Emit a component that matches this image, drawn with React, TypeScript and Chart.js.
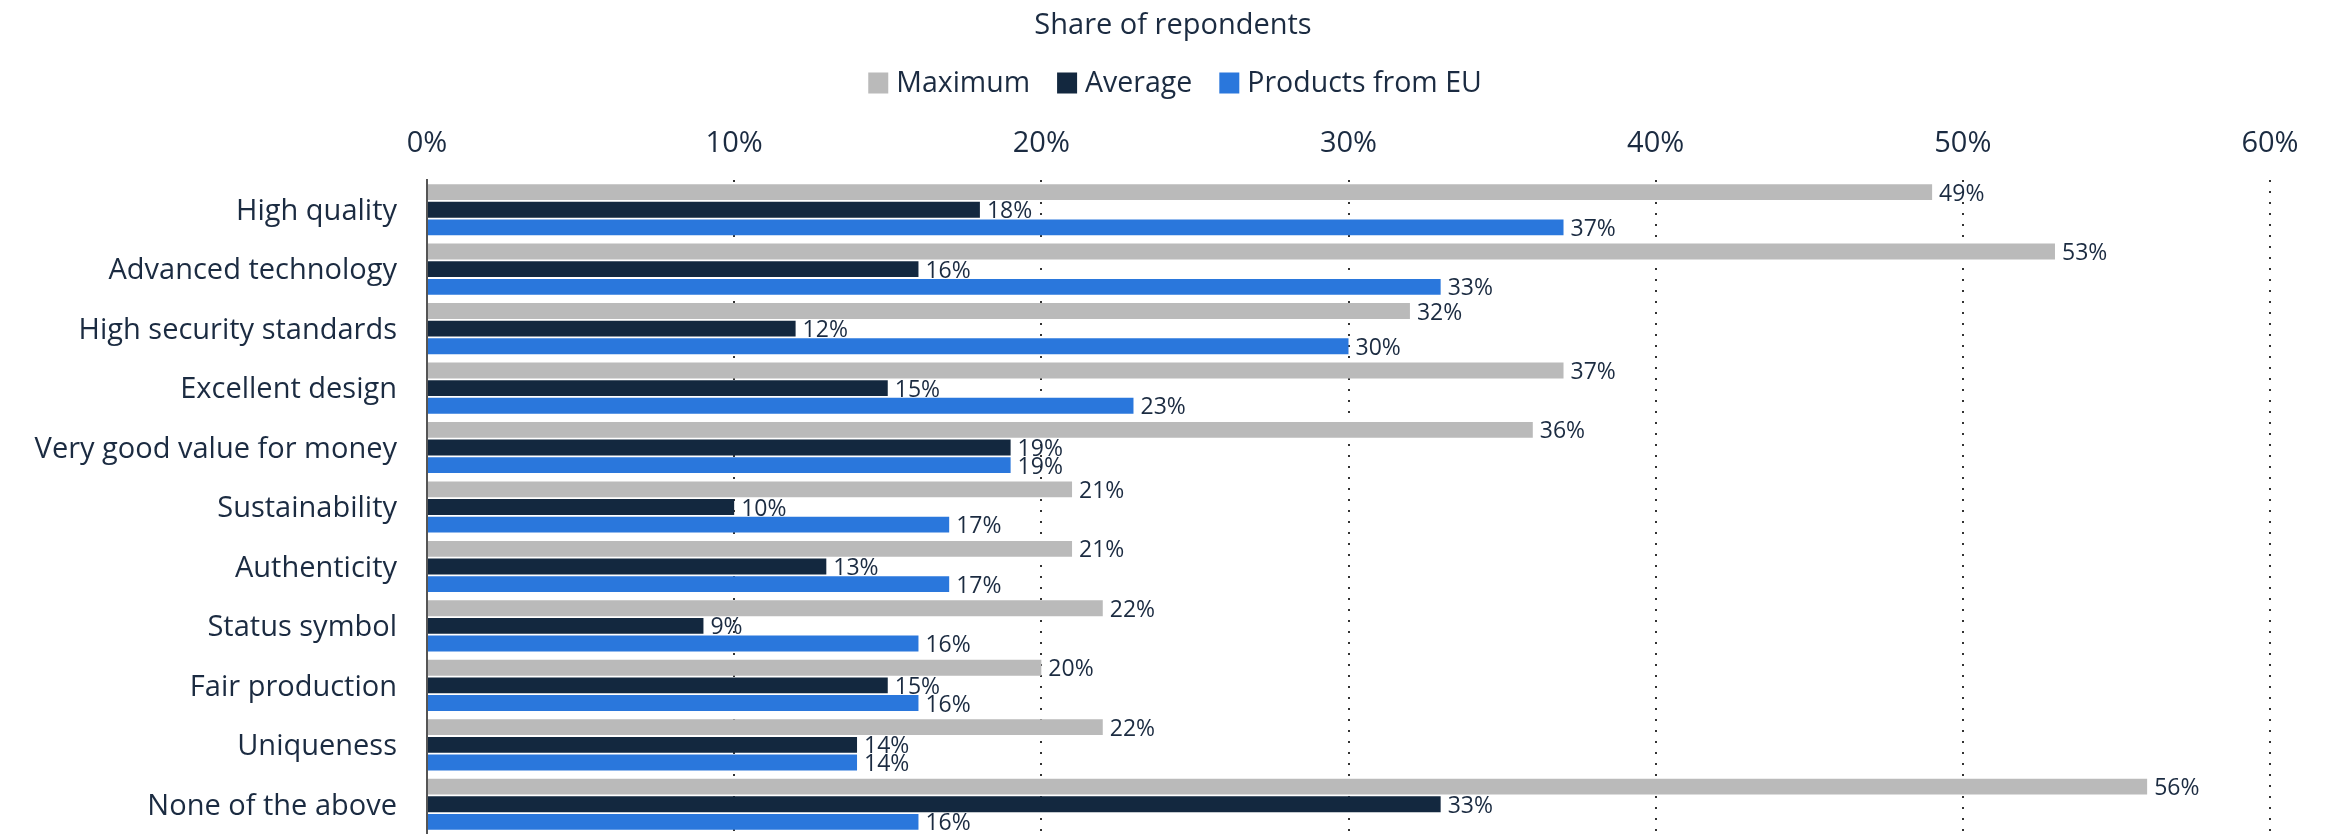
import React, { useEffect, useRef } from "react";
import { Chart, registerables } from "chart.js";

Chart.register(...registerables);

const categories = [
  "High quality",
  "Advanced technology",
  "High security standards",
  "Excellent design",
  "Very good value for money",
  "Sustainability",
  "Authenticity",
  "Status symbol",
  "Fair production",
  "Uniqueness",
  "None of the above",
];
const maximumValues = [49, 53, 32, 37, 36, 21, 21, 22, 20, 22, 56];
const averageValues = [18, 16, 12, 15, 19, 10, 13, 9, 15, 14, 33];
const euValues = [37, 33, 30, 23, 19, 17, 17, 16, 16, 14, 16];
const seriesNames = ["Maximum", "Average", "Products from EU"];
const seriesColors = ["#bababa", "#13283f", "#2a77dc"];
const titleText = "Share of repondents";
const xTicks = [0, 10, 20, 30, 40, 50, 60];

const TEXT = "#1b2b41";
const FONT = "'Open Sans', 'Noto Sans', sans-serif";

const headerPlugin = {
  id: "header",
  afterDraw(chart: any) {
    const ctx = chart.ctx;
    const W = chart.width;
    ctx.save();
    ctx.fillStyle = TEXT;
    ctx.textBaseline = "middle";
    ctx.textAlign = "center";
    ctx.font = `29px ${FONT}`;
    ctx.fillText(titleText, W / 2 + 10, 26);
    // legend
    ctx.font = `28.5px ${FONT}`;
    const boxW = 20, boxH = 21, gapBox = 8, gapItem = 27;
    const widths = seriesNames.map((n) => ctx.measureText(n).width);
    let total = 0;
    widths.forEach((w, i) => {
      total += boxW + gapBox + w + (i < widths.length - 1 ? gapItem : 0);
    });
    let x = W / 2 - total / 2 + 12;
    const y = 83;
    ctx.textAlign = "left";
    seriesNames.forEach((n, i) => {
      ctx.fillStyle = seriesColors[i];
      ctx.fillRect(x, y - boxH / 2, boxW, boxH);
      ctx.fillStyle = TEXT;
      ctx.fillText(n, x + boxW + gapBox, y + 1);
      x += boxW + gapBox + widths[i] + gapItem;
    });
    ctx.restore();
  },
};

const labelPlugin = {
  id: "barLabels",
  afterDatasetsDraw(chart: any) {
    const ctx = chart.ctx;
    ctx.save();
    ctx.fillStyle = TEXT;
    ctx.font = `23px ${FONT}`;
    ctx.textAlign = "left";
    ctx.textBaseline = "middle";
    chart.data.datasets.forEach((ds: any, di: number) => {
      const meta = chart.getDatasetMeta(di);
      meta.data.forEach((bar: any, i: number) => {
        ctx.fillText(`${ds.data[i]}%`, bar.x + 7, bar.y + 2);
      });
    });
    ctx.restore();
  },
};

export default function App() {
  const ref = useRef<HTMLCanvasElement>(null);
  useEffect(() => {
    if (!ref.current) return;
    const chart = new Chart(ref.current, {
      type: "bar",
      data: {
        labels: categories,
        datasets: [maximumValues, averageValues, euValues].map((d, i) => ({
          label: seriesNames[i],
          data: d,
          backgroundColor: seriesColors[i],
          borderWidth: 0,
          categoryPercentage: 0.89,
          barPercentage: 0.9,
        })),
      },
      options: {
        indexAxis: "y",
        animation: false,
        responsive: false,
        maintainAspectRatio: false,
        layout: { padding: { top: 126, right: 56, bottom: 0, left: 0 } },
        plugins: {
          legend: { display: false },
          title: { display: false },
          tooltip: { enabled: false },
        },
        scales: {
          x: {
            position: "top",
            min: 0,
            max: 60,
            afterBuildTicks(scale: any) {
              scale.ticks = xTicks.map((v) => ({ value: v }));
            },
            afterFit(scale: any) {
              scale.height = 54;
              scale.paddingLeft = 0;
              scale.paddingRight = 0;
            },
            ticks: {
              color: TEXT,
              font: { family: FONT, size: 29 },
              padding: 19,
              callback: (v: any) => `${v}%`,
            },
            grid: {
              color: (c: any) => (c.tick && c.tick.value === 0 ? "rgba(0,0,0,0)" : "#333333"),
              lineWidth: 2,
              drawTicks: false,
              borderDash: [2, 9],
            } as any,
            border: { display: false, dash: [2, 9] } as any,
          },
          y: {
            ticks: {
              color: TEXT,
              font: { family: FONT, size: 29 },
              padding: 30,
              labelOffset: 2,
            },
            grid: { display: false, drawTicks: false },
            border: { display: true, color: "#555555", width: 2 },
            afterFit(scale: any) {
              scale.width = 427;
              scale.paddingTop = 0;
              scale.paddingBottom = 0;
            },
          },
        },
      },
      plugins: [headerPlugin, labelPlugin],
    });
    return () => chart.destroy();
  }, []);
  return (
    <div style={{ position: "fixed", left: 0, top: 0, width: 2326, height: 834, background: "#fff" }}>
      <canvas ref={ref} width={2326} height={834} />
    </div>
  );
}
